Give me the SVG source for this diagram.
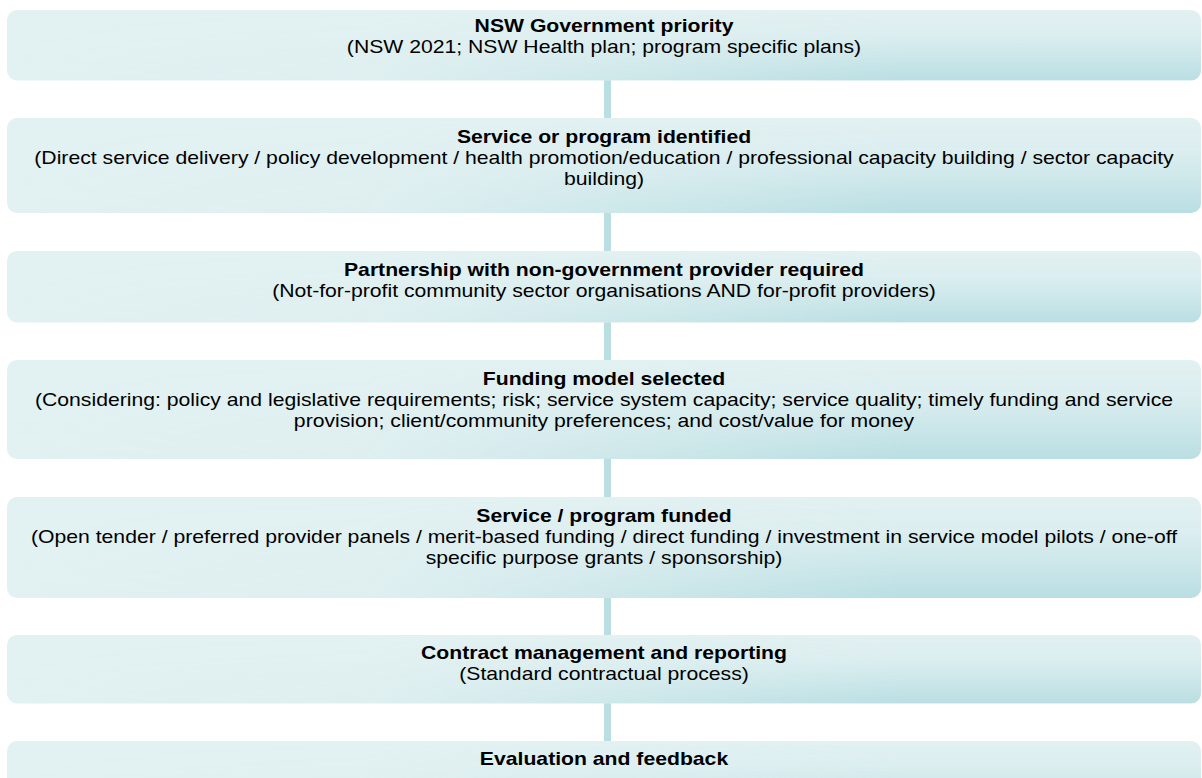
<svg xmlns="http://www.w3.org/2000/svg" width="1202" height="778" viewBox="0 0 1202 778">
<defs>
<linearGradient id="vert" x1="0" y1="0" x2="0" y2="1">
<stop offset="0" stop-color="#bbdfe3" stop-opacity="0"/>
<stop offset="0.35" stop-color="#bbdfe3" stop-opacity="0.15"/>
<stop offset="1" stop-color="#b9dee2" stop-opacity="1"/>
</linearGradient>
<linearGradient id="horiz" x1="0" y1="0" x2="1" y2="0">
<stop offset="0" stop-color="#000"/>
<stop offset="0.3" stop-color="#111"/>
<stop offset="0.75" stop-color="#fff"/>
<stop offset="1" stop-color="#fff"/>
</linearGradient>
<mask id="m" maskContentUnits="objectBoundingBox">
<rect x="0" y="0" width="1" height="1" fill="url(#horiz)"/>
</mask>
</defs>
<style>
.base{fill:#e2f1f2}
.shade{fill:url(#vert)}
.conn{fill:#b9dfe3}
text{font-family:"Liberation Sans",Arial,sans-serif;font-size:19px;fill:#000;text-anchor:middle}
.t{font-weight:bold}
</style>
<g id="connectors">
<rect class="conn" x="604" y="80" width="7" height="38"/>
<rect class="conn" x="604" y="213" width="7" height="38"/>
<rect class="conn" x="604" y="322" width="7" height="38"/>
<rect class="conn" x="604" y="459" width="7" height="38"/>
<rect class="conn" x="604" y="598" width="7" height="37"/>
<rect class="conn" x="604" y="703" width="7" height="38"/>
</g>
<g id="n1">
<rect class="base" x="7" y="10" width="1194" height="70.5" rx="10"/>
<rect class="shade" x="7" y="10" width="1194" height="70.5" rx="10" mask="url(#m)"/>
<g transform="matrix(1.1156 0 0 1 -69.8 0)">
<text class="t" x="604" y="32">NSW Government priority</text>
<text x="604" y="53">(NSW 2021; NSW Health plan; program specific plans)</text>
</g>
</g>
<g id="n2">
<rect class="base" x="7" y="118" width="1194" height="95" rx="10"/>
<rect class="shade" x="7" y="118" width="1194" height="95" rx="10" mask="url(#m)"/>
<g transform="matrix(1.1156 0 0 1 -69.8 0)">
<text class="t" x="604" y="143">Service or program identified</text>
<text x="604" y="164">(Direct service delivery / policy development / health promotion/education / professional capacity building / sector capacity</text>
<text x="604" y="185">building)</text>
</g>
</g>
<g id="n3">
<rect class="base" x="7" y="251" width="1194" height="71.5" rx="10"/>
<rect class="shade" x="7" y="251" width="1194" height="71.5" rx="10" mask="url(#m)"/>
<g transform="matrix(1.1156 0 0 1 -69.8 0)">
<text class="t" x="604" y="276">Partnership with non-government provider required</text>
<text x="604" y="297">(Not-for-profit community sector organisations AND for-profit providers)</text>
</g>
</g>
<g id="n4">
<rect class="base" x="7" y="360" width="1194" height="99" rx="10"/>
<rect class="shade" x="7" y="360" width="1194" height="99" rx="10" mask="url(#m)"/>
<g transform="matrix(1.1156 0 0 1 -69.8 0)">
<text class="t" x="604" y="385">Funding model selected</text>
<text x="604" y="406">(Considering: policy and legislative requirements; risk; service system capacity; service quality; timely funding and service</text>
<text x="604" y="427">provision; client/community preferences; and cost/value for money</text>
</g>
</g>
<g id="n5">
<rect class="base" x="7" y="497" width="1194" height="101" rx="10"/>
<rect class="shade" x="7" y="497" width="1194" height="101" rx="10" mask="url(#m)"/>
<g transform="matrix(1.1156 0 0 1 -69.8 0)">
<text class="t" x="604" y="522">Service / program funded</text>
<text x="604" y="543">(Open tender / preferred provider panels / merit-based funding / direct funding / investment in service model pilots / one-off</text>
<text x="604" y="564">specific purpose grants / sponsorship)</text>
</g>
</g>
<g id="n6">
<rect class="base" x="7" y="635" width="1194" height="68.5" rx="10"/>
<rect class="shade" x="7" y="635" width="1194" height="68.5" rx="10" mask="url(#m)"/>
<g transform="matrix(1.1156 0 0 1 -69.8 0)">
<text class="t" x="604" y="659">Contract management and reporting</text>
<text x="604" y="680">(Standard contractual process)</text>
</g>
</g>
<g id="n7">
<rect class="base" x="7" y="741" width="1194" height="70" rx="10"/>
<rect class="shade" x="7" y="741" width="1194" height="70" rx="10" mask="url(#m)"/>
<g transform="matrix(1.1156 0 0 1 -69.8 0)">
<text class="t" x="604" y="765">Evaluation and feedback</text>
</g>
</g>
</svg>
